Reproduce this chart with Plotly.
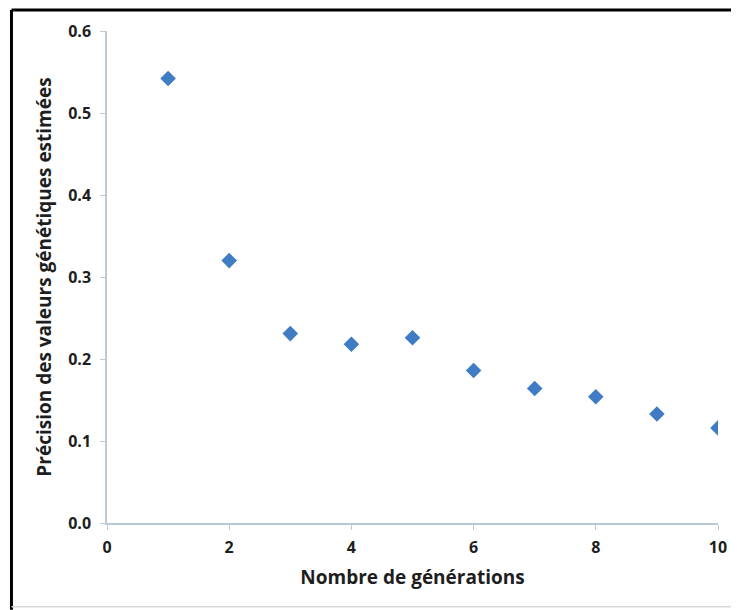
import plotly.graph_objects as go

generations = [1, 2, 3, 4, 5, 6, 7, 8, 9, 10]
precision = [0.542, 0.320, 0.231, 0.218, 0.226, 0.186, 0.164, 0.154, 0.133, 0.116]
x_ticks = [0, 2, 4, 6, 8, 10]
y_ticks = [0.0, 0.1, 0.2, 0.3, 0.4, 0.5, 0.6]

# page body has an 8px margin, so the figure is sized/positioned to compensate
OFF = 8
W, H = 739 - OFF, 610 - OFF
L, R, T, B = 107 - OFF, 18, 30 - OFF, 87
pw, ph = W - L - R, H - T - B

def px(x):
    return (x - OFF - L) / pw

def py(y):
    return (H - B - (y - OFF)) / ph

fig = go.Figure()
fig.add_trace(go.Scatter(
    x=generations, y=precision, mode="markers",
    marker=dict(symbol="diamond", size=12, color="#3f7cc4", line=dict(width=0)),
    showlegend=False,
))

txt = "#1e1e1e"
fig.update_layout(
    width=W, height=H,
    margin=dict(l=L, r=R, t=T, b=B),
    paper_bgcolor="white", plot_bgcolor="white",
    font=dict(family="Open Sans", color=txt),
    xaxis=dict(
        range=[0, 10], tickvals=x_ticks, ticktext=[str(v) for v in x_ticks],
        showgrid=False, zeroline=False, showline=True, linecolor="#b9c9d6", linewidth=1.5,
        ticks="outside", ticklen=5, tickcolor="#b9c9d6", ticklabelstandoff=4,
        tickfont=dict(family="Open Sans", size=16, color=txt, weight="bold"),
        title=dict(text="<b>Nombre de générations</b>", font=dict(family="Open Sans", size=19, color=txt), standoff=14),
    ),
    yaxis=dict(
        range=[0, 0.6], tickvals=y_ticks, ticktext=[f"{v:.1f}" for v in y_ticks],
        showgrid=False, zeroline=False, showline=True, linecolor="#b9c9d6", linewidth=1.5,
        ticks="outside", ticklen=5, tickcolor="#b9c9d6", ticklabelstandoff=6,
        tickfont=dict(family="Open Sans", size=16, color=txt, weight="bold"),
        title=dict(text="<b>Précision des valeurs génétiques estimées</b>", font=dict(family="Open Sans", size=19, color=txt), standoff=12),
    ),
    shapes=[
        dict(type="line", xref="paper", yref="paper", x0=px(11), x1=px(739), y0=py(9), y1=py(9),
             line=dict(color="black", width=3)),
        dict(type="line", xref="paper", yref="paper", x0=px(11), x1=px(11), y0=py(9), y1=py(610),
             line=dict(color="black", width=3)),
        dict(type="line", xref="paper", yref="paper", x0=px(11), x1=px(739), y0=py(607), y1=py(607),
             line=dict(color="#d8d8d8", width=1.5)),
    ],
)

fig.write_html("out.html")
